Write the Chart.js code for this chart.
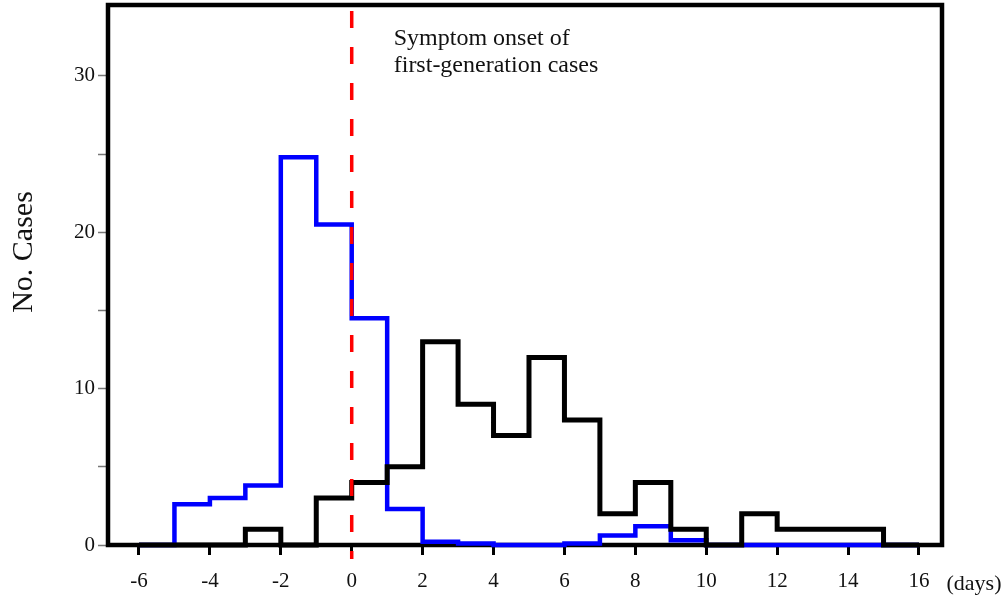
<!DOCTYPE html>
<html><head><meta charset="utf-8">
<script src="https://cdn.jsdelivr.net/npm/chart.js@4.4.1/dist/chart.umd.min.js"></script>
<style>html,body{margin:0;padding:0;background:#fff;} #wrap{width:1006px;height:598px;}</style>
</head><body><div id="wrap"><canvas id="c" width="1006" height="598"></canvas></div>
<script>
// ---- data ----
const binStarts = [-6,-5,-4,-3,-2,-1,0,1,2,3,4,5,6,7,8,9,10,11,12,13,14,15];
const blueCounts = [0,2.6,3.0,3.8,24.8,20.5,14.5,2.3,0.2,0.1,0,0,0.1,0.6,1.2,0.3,0,0,0,0,0,0];
const blackCounts = [0,0,0,1,0,3,4,5,13,9,7,12,8,2,4,1,0,2,1,1,1,0];
const xTickValues = [-6,-4,-2,0,2,4,6,8,10,12,14,16];
const yTickValues = [0,5,10,15,20,25,30];
const yLabelValues = [0,10,20,30];
const onsetDay = 0;
const onsetSpan = [34.16, -0.9];
const annotationLines = ['Symptom onset of','first-generation cases'];
const yTitle = 'No. Cases';
const xUnit = '(days)';

function stepPoints(counts){
  const pts = binStarts.map((x,i)=>({x:x, y:counts[i]}));
  pts.push({x: binStarts[binStarts.length-1]+1, y: counts[counts.length-1]});
  return pts;
}

const serif = '"Liberation Serif", "Times New Roman", serif';

const framePlugin = {
  id:'frame',
  beforeDatasetsDraw(chart){
    const {ctx, chartArea:a} = chart;
    ctx.save();
    ctx.lineWidth = 4.5;
    ctx.strokeStyle = '#000';
    ctx.lineJoin = 'miter';
    ctx.strokeRect(a.left, a.top, a.right-a.left, a.bottom-a.top);
    ctx.restore();
  },
  afterDraw(chart){
    const {ctx, chartArea:a, scales} = chart;
    const xs = scales.x;
    ctx.save();
    ctx.fillStyle = '#111';
    ctx.font = '24px ' + serif;
    ctx.textAlign = 'left';
    ctx.textBaseline = 'alphabetic';
    const ax = xs.getPixelForValue(onsetDay) + 42;
    ctx.fillText(annotationLines[0], ax, a.top + 40);
    ctx.fillText(annotationLines[1], ax, a.top + 67);
    // unit label
    ctx.font = '22px ' + serif;
    ctx.textAlign = 'center';
    ctx.fillText(xUnit, xs.getPixelForValue(xTickValues[xTickValues.length-1]) + 55, a.bottom + 45);
    // y title
    ctx.font = '30px ' + serif;
    ctx.translate(24, 252);
    ctx.rotate(-Math.PI/2);
    ctx.textBaseline = 'middle';
    ctx.fillText(yTitle, 0, 0);
    ctx.restore();
  }
};

new Chart(document.getElementById('c'), {
  type: 'line',
  data: {
    datasets: [
      {
        label: 'onset',
        data: [{x:onsetDay, y:onsetSpan[0]},{x:onsetDay, y:onsetSpan[1]}],
        borderColor: '#ff0000',
        borderWidth: 3.5,
        borderDash: [17,19],
        pointRadius: 0,
        clip: false,
        order: 0
      },
      {
        label: 'second',
        data: stepPoints(blackCounts),
        stepped: 'before',
        borderColor: '#000000',
        borderWidth: 5,
        borderJoinStyle: 'miter',
        borderCapStyle: 'butt',
        pointRadius: 0,
        fill: false,
        clip: false,
        order: 1
      },
      {
        label: 'first',
        data: stepPoints(blueCounts),
        stepped: 'before',
        borderColor: '#0000ff',
        borderWidth: 4.5,
        borderJoinStyle: 'miter',
        borderCapStyle: 'butt',
        pointRadius: 0,
        fill: false,
        clip: false,
        order: 2
      }
    ]
  },
  options: {
    responsive: false,
    animation: false,
    layout: { padding: { left: 0, right: 64, top: 5, bottom: 0 } },
    plugins: { legend: {display:false}, tooltip: {enabled:false} },
    scales: {
      x: {
        type: 'linear',
        min: -6.874, max: 16.649,
        afterBuildTicks: s => { s.ticks = xTickValues.map(v => ({value:v})); },
        afterFit: s => { s.height = 53; s.paddingLeft = 0; s.paddingRight = 0; },
        ticks: { autoSkip:false, maxRotation:0, padding: 14, color:'#111', font:{family: serif, size: 21} },
        grid: { drawOnChartArea:false, drawTicks:true, tickLength:10, tickWidth:3, tickColor:'#000' },
        border: { display:false }
      },
      y: {
        type: 'linear',
        min: 0, max: 34.54,
        afterBuildTicks: s => { s.ticks = yTickValues.map(v => ({value:v})); },
        afterFit: s => { s.width = 108; s.paddingTop = 0; s.paddingBottom = 0; },
        ticks: { autoSkip:false, padding: 3, color:'#111', font:{family: serif, size: 21},
                 callback: v => yLabelValues.includes(v) ? String(v) : '' },
        grid: { drawOnChartArea:false, drawTicks:true, tickLength:10, tickWidth:1.5, tickColor:'#777' },
        border: { display:false }
      }
    }
  },
  plugins: [framePlugin]
});
</script>
</body></html>
